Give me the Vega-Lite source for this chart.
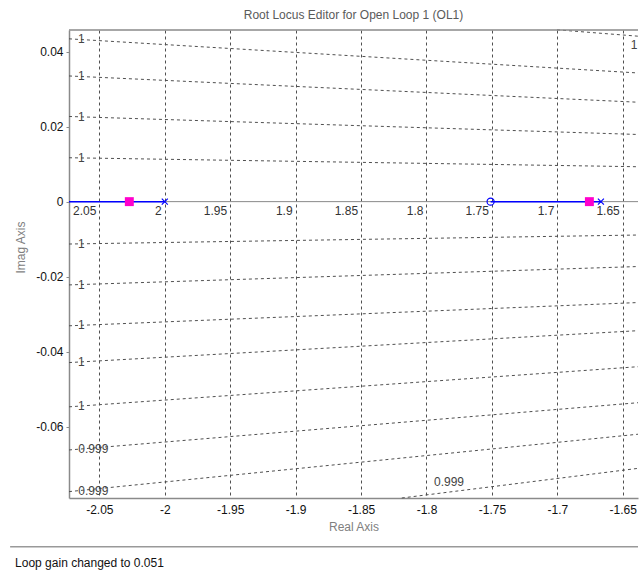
{
  "$schema": "https://vega.github.io/schema/vega-lite/v6.json",
  "autosize": "none",
  "width": 569,
  "height": 468,
  "padding": {"left": 69, "top": 30, "right": 1, "bottom": 76},
  "background": "#ffffff",
  "view": {"stroke": null},
  "title": {"text": "Root Locus Editor for Open Loop 1 (OL1)", "font": "Liberation Sans", "fontSize": 12, "fontWeight": "normal", "color": "#5a5a5a", "offset": 7, "anchor": "middle"},
  "datasets": {
    "zeta": [
      {"x": -1.7002, "y": 0.0458, "x2": -1.63835, "y2": 0.0441},
      {"x": -2.0732, "y": 0.0434, "x2": -1.63835, "y2": 0.0343},
      {"x": -2.0732, "y": 0.0335, "x2": -1.63835, "y2": 0.0265},
      {"x": -2.0732, "y": 0.0227, "x2": -1.63835, "y2": 0.0179},
      {"x": -2.0732, "y": 0.0117, "x2": -1.63835, "y2": 0.0093},
      {"x": -2.0732, "y": -0.0113, "x2": -1.63835, "y2": -0.0089},
      {"x": -2.0732, "y": -0.0222, "x2": -1.63835, "y2": -0.0173},
      {"x": -2.0732, "y": -0.0331, "x2": -1.63835, "y2": -0.0269},
      {"x": -2.0732, "y": -0.0429, "x2": -1.63835, "y2": -0.0344},
      {"x": -2.0732, "y": -0.0547, "x2": -1.63835, "y2": -0.0440},
      {"x": -2.0732, "y": -0.0662, "x2": -1.63835, "y2": -0.0536},
      {"x": -2.0732, "y": -0.0773, "x2": -1.63835, "y2": -0.0620},
      {"x": -1.8189, "y": -0.0790, "x2": -1.63835, "y2": -0.0711}
    ],
    "zetaLabels": [
      {"x": -2.0638, "y": 0.0433, "label": "1"},
      {"x": -2.0638, "y": 0.0334, "label": "1"},
      {"x": -2.0638, "y": 0.0226, "label": "1"},
      {"x": -2.0638, "y": 0.0117, "label": "1"},
      {"x": -2.0638, "y": -0.0113, "label": "1"},
      {"x": -2.0638, "y": -0.0221, "label": "1"},
      {"x": -2.0638, "y": -0.0330, "label": "1"},
      {"x": -2.0638, "y": -0.0428, "label": "1"},
      {"x": -2.0638, "y": -0.0546, "label": "1"},
      {"x": -2.0546, "y": -0.0660, "label": "0.999"},
      {"x": -2.0546, "y": -0.0771, "label": "0.999"},
      {"x": -1.7828, "y": -0.0747, "label": "0.999"},
      {"x": -1.6414, "y": 0.0418, "label": "1"}
    ],
    "wnLabels": [
      {"x": -2.05, "y": -0.0024, "label": "2.05"},
      {"x": -2.0, "y": -0.0024, "label": "2"},
      {"x": -1.95, "y": -0.0024, "label": "1.95"},
      {"x": -1.9, "y": -0.0024, "label": "1.9"},
      {"x": -1.85, "y": -0.0024, "label": "1.85"},
      {"x": -1.8, "y": -0.0024, "label": "1.8"},
      {"x": -1.75, "y": -0.0024, "label": "1.75"},
      {"x": -1.7, "y": -0.0024, "label": "1.7"},
      {"x": -1.65, "y": -0.0024, "label": "1.65"}
    ],
    "realAxis": [{"x": -2.0732, "x2": -1.63835, "y": 0}],
    "topBorder": [{"x": -2.0732, "x2": -1.63835, "y": 0.04575}],
    "locus": [
      {"x": -2.0732, "x2": -2.0, "y": 0},
      {"x": -1.751, "x2": -1.6667, "y": 0}
    ],
    "poles": [{"x": -2.0, "y": 0}, {"x": -1.6667, "y": 0}],
    "zeros": [{"x": -1.751, "y": 0}],
    "clPoles": [{"x": -2.0271, "y": 0}, {"x": -1.6755, "y": 0}],
    "separator": [{"x": -2.1182, "x2": -1.63835, "y": -0.0920}],
    "status": [{"x": -2.1144, "y": -0.0963, "label": "Loop gain changed to 0.051"}]
  },
  "encoding": {
    "x": {
      "field": "x", "type": "quantitative",
      "scale": {"domain": [-2.0732, -1.63835], "nice": false, "zero": false},
      "axis": {
        "values": [-2.05, -2, -1.95, -1.9, -1.85, -1.8, -1.75, -1.7, -1.65],
        "labelExpr": "'' + datum.value",
        "grid": true, "gridDash": [3, 3], "gridColor": "#505050", "gridOpacity": 1, "gridWidth": 1,
        "ticks": false,
        "domainColor": "#8a8a8a", "domainWidth": 1.5,
        "labelFont": "Liberation Sans", "labelFontSize": 12, "labelColor": "#111111", "labelPadding": 6,
        "title": "Real Axis", "titleFont": "Liberation Sans", "titleFontSize": 12, "titleFontWeight": "normal", "titleColor": "#808080",
        "titleY": 23, "titleBaseline": "top"
      }
    },
    "y": {
      "field": "y", "type": "quantitative",
      "scale": {"domain": [-0.0790, 0.04575], "nice": false, "zero": false},
      "axis": {
        "values": [0.04, 0.02, 0, -0.02, -0.04, -0.06],
        "labelExpr": "'' + datum.value",
        "grid": false,
        "tickSize": 3, "tickColor": "#8a8a8a",
        "domainColor": "#8a8a8a", "domainWidth": 1.5,
        "labelFont": "Liberation Sans", "labelFontSize": 12, "labelColor": "#111111", "labelPadding": 3,
        "title": "Imag Axis", "titleFont": "Liberation Sans", "titleFontSize": 12, "titleFontWeight": "normal", "titleColor": "#808080",
        "titleX": -49, "titleY": 217, "titleAngle": 270, "titleAlign": "center", "titleBaseline": "middle"
      }
    }
  },
  "layer": [
    {
      "data": {"name": "zeta"},
      "mark": {"type": "rule", "strokeDash": [3, 3], "color": "#505050", "strokeWidth": 1},
      "encoding": {"x2": {"field": "x2"}, "y2": {"field": "y2"}}
    },
    {
      "data": {"name": "realAxis"},
      "mark": {"type": "rule", "color": "#8a8a8a", "strokeWidth": 1},
      "encoding": {"x2": {"field": "x2"}}
    },
    {
      "data": {"name": "topBorder"},
      "mark": {"type": "rule", "color": "#8a8a8a", "strokeWidth": 1.5},
      "encoding": {"x2": {"field": "x2"}}
    },
    {
      "data": {"name": "locus"},
      "mark": {"type": "rule", "color": "#0000ff", "strokeWidth": 1.5},
      "encoding": {"x2": {"field": "x2"}}
    },
    {
      "data": {"name": "poles"},
      "mark": {"type": "point", "shape": "M-1,-1L1,1M-1,1L1,-1", "filled": false, "stroke": "#0000ff", "strokeWidth": 1.2, "size": 36, "opacity": 1}
    },
    {
      "data": {"name": "zeros"},
      "mark": {"type": "point", "shape": "circle", "filled": false, "stroke": "#0000ff", "strokeWidth": 1.2, "size": 50, "opacity": 1}
    },
    {
      "data": {"name": "clPoles"},
      "mark": {"type": "point", "shape": "square", "filled": true, "color": "#ff00cc", "size": 80, "opacity": 1}
    },
    {
      "data": {"name": "zetaLabels"},
      "mark": {"type": "text", "font": "Liberation Sans", "fontSize": 12, "color": "#444444", "align": "center", "baseline": "middle"},
      "encoding": {"text": {"field": "label"}}
    },
    {
      "data": {"name": "wnLabels"},
      "mark": {"type": "text", "font": "Liberation Sans", "fontSize": 12, "color": "#333333", "align": "right", "baseline": "middle", "dx": -3},
      "encoding": {"text": {"field": "label"}}
    },
    {
      "data": {"name": "separator"},
      "mark": {"type": "rule", "color": "#999999", "strokeWidth": 1.5},
      "encoding": {"x2": {"field": "x2"}}
    },
    {
      "data": {"name": "status"},
      "mark": {"type": "text", "font": "Liberation Sans", "fontSize": 12, "color": "#111111", "align": "left", "baseline": "middle"},
      "encoding": {"text": {"field": "label"}}
    }
  ]
}
